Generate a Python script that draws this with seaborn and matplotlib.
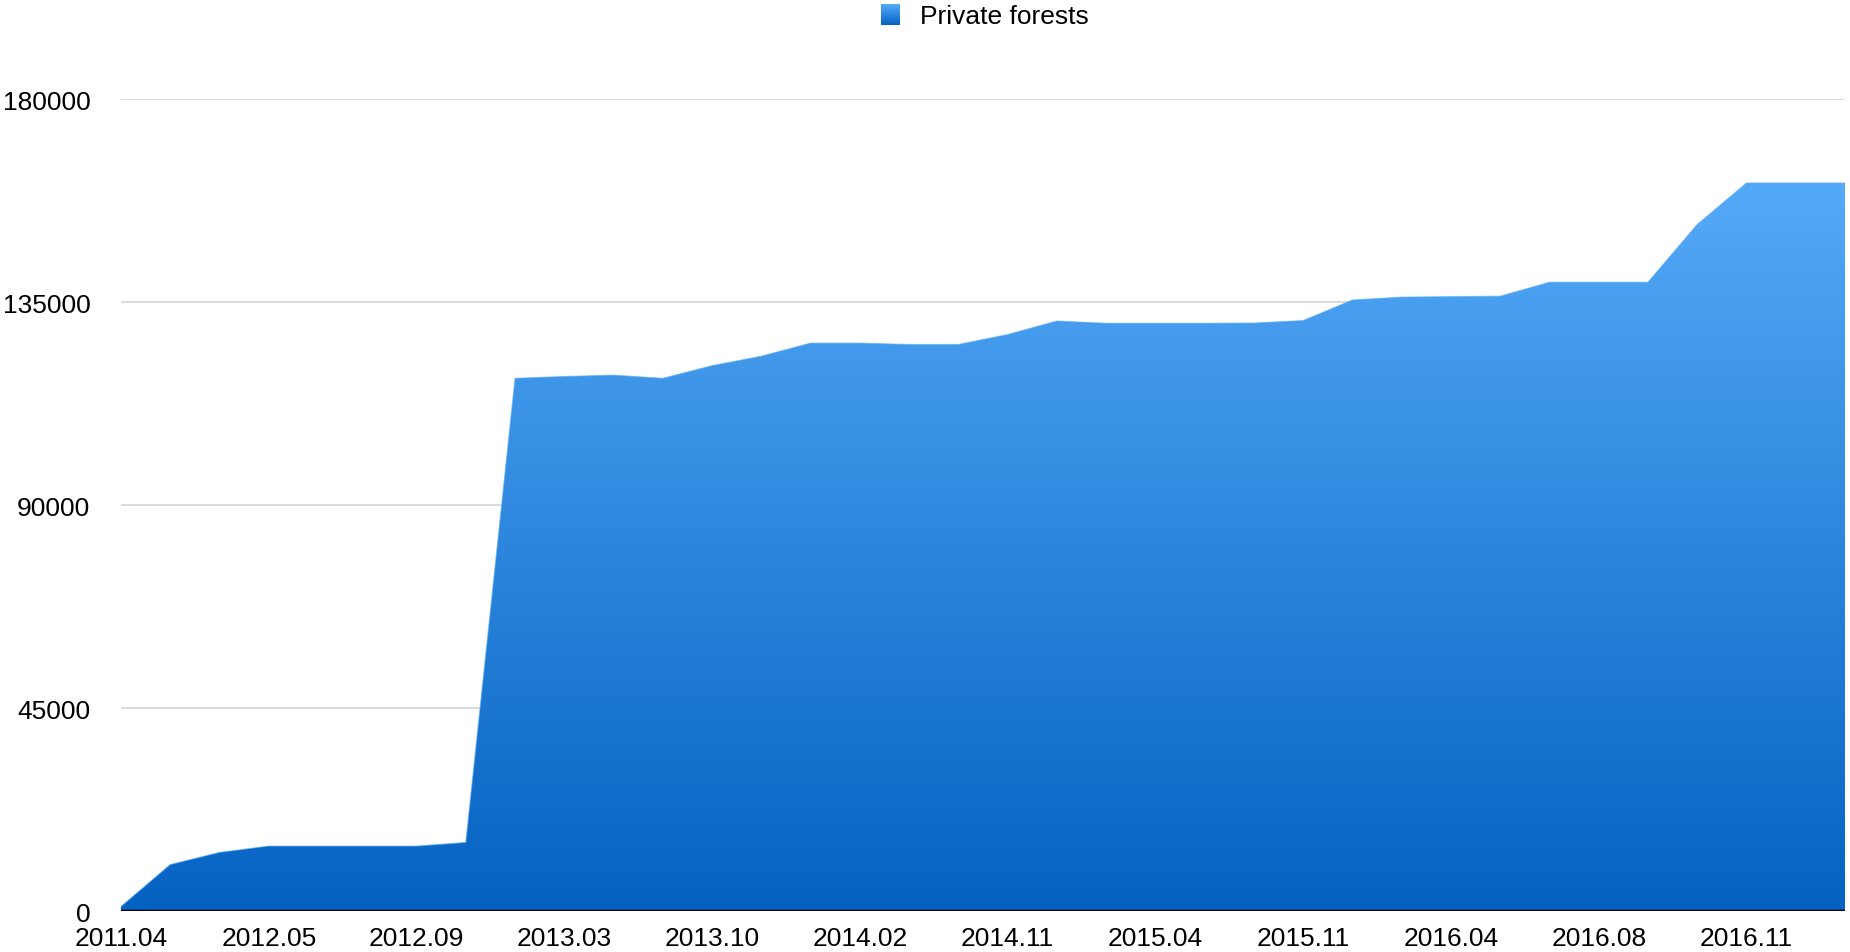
import numpy as np
import pandas as pd
import matplotlib
matplotlib.use("Agg")
import matplotlib.pyplot as plt
import seaborn as sns
from matplotlib.colors import LinearSegmentedColormap

# monthly snapshots, only every third one is labelled on the axis
tick_labels = ["2011.04", "2012.05", "2012.09", "2013.03", "2013.10", "2014.02",
               "2014.11", "2015.04", "2015.11", "2016.04", "2016.08", "2016.11"]
forest_area = [1000, 10300, 13000, 14400, 14400, 14400, 14400, 15200,
               118100, 118500, 118800, 118100, 120900, 123000, 125900, 125900,
               125600, 125600, 127800, 130800, 130300, 130300, 130300, 130350,
               130900, 135450, 136100, 136200, 136300, 139400, 139400, 139400,
               152200, 161400, 161400, 161400]
y_ticks = [0, 45000, 90000, 135000, 180000]

df = pd.DataFrame({"idx": np.arange(len(forest_area)), "area": forest_area})

sns.set_theme(style="white")
plt.rcParams["font.family"] = ["Liberation Sans", "DejaVu Sans"]
plt.rcParams["text.color"] = "black"
plt.rcParams["xtick.color"] = "black"
plt.rcParams["ytick.color"] = "black"

top_col = "#55aaf8"
bot_col = "#0562c1"
grad = LinearSegmentedColormap.from_list("blues", [bot_col, top_col])

fig = plt.figure(figsize=(18.5, 9.53), dpi=100)
ax = fig.add_axes([0.0654, 0.043, 0.9319, 0.852])

ymax = 180000
ax.set_xlim(0, len(forest_area) - 1)
ax.set_ylim(0, ymax)

# grid lines
for yt in y_ticks[1:]:
    ax.axhline(yt, color="#d4d4d4", lw=1.2, zorder=0)

# gradient fill clipped to the area
poly = ax.fill_between(df["idx"], 0, df["area"], color="none", lw=0)
img = ax.imshow(np.linspace(0, 1, 256).reshape(-1, 1), cmap=grad, aspect="auto",
                extent=[0, len(forest_area) - 1, 0, 161400], origin="lower", zorder=2)
img.set_clip_path(poly.get_paths()[0], transform=ax.transData)
sns.lineplot(data=df, x="idx", y="area", ax=ax, color=top_col, lw=0.8, alpha=0.6, zorder=3)

ax.axhline(0, color="black", lw=2.5, zorder=4)

ax.set_xticks(df["idx"][::3])
ax.set_xticklabels(tick_labels, fontsize=19)
ax.set_yticks(y_ticks)
ax.set_yticklabels([str(v) for v in y_ticks], fontsize=19)
ax.tick_params(axis="y", length=0, pad=22)
ax.tick_params(axis="x", length=0, pad=11)
ax.set_xlabel("")
ax.set_ylabel("")
for s in ax.spines.values():
    s.set_visible(False)

# legend: gradient swatch + label
lax = fig.add_axes([881 / 1850, 1 - 26 / 953, 19 / 1850, 21 / 953])
lax.imshow(np.linspace(0, 1, 64).reshape(-1, 1), cmap=grad, aspect="auto", origin="lower")
lax.axis("off")
fig.text(920 / 1850, 1 - 17 / 953, "Private forests", fontsize=19, va="center", ha="left")

fig.savefig("out.png", dpi=100, facecolor="white")
